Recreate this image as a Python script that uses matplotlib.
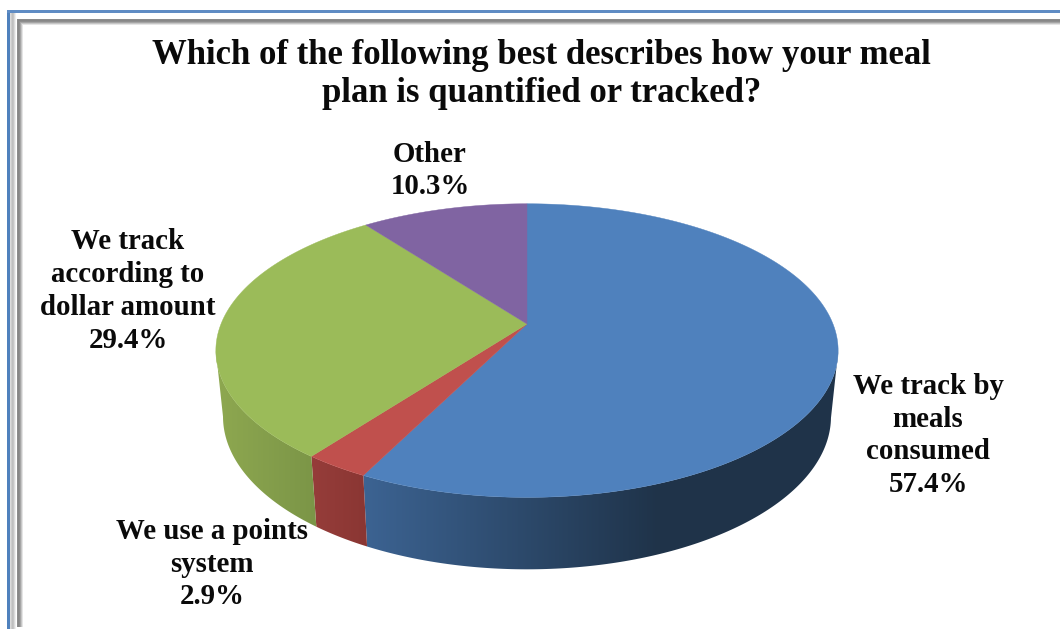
import numpy as np
import matplotlib
matplotlib.use("Agg")
from matplotlib import pyplot as plt
from matplotlib.colors import LinearSegmentedColormap, to_rgb
from matplotlib.patches import Polygon

title = "Which of the following best describes how your meal\nplan is quantified or tracked?"
categories = ["We track by\nmeals\nconsumed", "We use a points\nsystem",
              "We track\naccording to\ndollar amount", "Other"]
values = [57.4, 2.9, 29.4, 10.3]
top_colors = ["#4f81bd", "#c0504d", "#9bbb59", "#8064a2"]
side_colors = [("#3c6392", "#1f3349"), ("#963d3a", "#8a3633"),
               ("#8ea850", "#7b9547"), ("#66507f", "#66507f")]
label_xy = [(928, 435.5), (212, 564), (128, 291), (430, 170.5)]

W, H = 1060, 629
CX, CY = 527, 324     # apex of the pie on screen
R, DEPTH, K = 306, 142, 0.181     # disc radius, squash, perspective strength


def project(theta, sx=1.0, sy=1.0, dy=0.0):
    # theta runs clockwise from 12 o'clock, near edge of the disc is larger
    u, v = np.sin(theta), -np.cos(theta)
    w = 1 - K * v
    return CX + sx * R * u / w, CY + dy + sy * DEPTH * v / w


def frame_image():
    img = np.ones((H, W, 3))
    img[10:, 7:10] = to_rgb("#4f81bd")
    img[10:13, 7:] = to_rgb("#5f8cc4")
    for i, g in enumerate([.86, .80, .75, .78, .86, .94, 1]):
        img[13:, 10 + i] = g
    for i, g in enumerate([.55, .53, .56, .65, .78, .9]):
        img[19 + i:627, 17 + i] = g
        img[19 + i, 17 + i:] = g
    return img


fig = plt.figure(figsize=(W / 100, H / 100), dpi=100)
ax = fig.add_axes([0, 0, 1, 1])
ax.imshow(frame_image(), extent=(0, W, H, 0), interpolation="nearest", zorder=0)

edges = np.radians(np.cumsum([0] + values) / sum(values) * 360)

# outer wall, only the part that faces the viewer; the shade follows x
for start, end, shades in zip(edges[:-1], edges[1:], side_colors):
    th = np.linspace(start, end, 300)
    th = th[-np.cos(th) > K]
    if len(th) < 2:
        continue
    tx, ty = project(th)
    bx, by = project(th, sx=0.977, sy=1.04, dy=65)
    outline = np.c_[np.r_[tx, bx[::-1]], np.r_[ty, by[::-1]]]
    lo, hi = (365, 660) if start == 0 else (outline[:, 0].min(), outline[:, 0].max())
    cmap = LinearSegmentedColormap.from_list("wall", shades)
    grad = np.clip((np.arange(W) + 0.5 - lo) / (hi - lo), 0, 1)[None, :]
    im = ax.imshow(grad, cmap=cmap, vmin=0, vmax=1, extent=(0, W, H, 0),
                   aspect="auto", interpolation="nearest", zorder=2)
    im.set_clip_path(Polygon(outline, closed=True, transform=ax.transData))

# top face
for start, end, color in zip(edges[:-1], edges[1:], top_colors):
    th = np.linspace(start, end, 200)
    px, py = project(th)
    ax.fill(np.r_[CX, px], np.r_[CY, py], color=color, lw=0.3, zorder=3)

ax.set_xlim(0, W)
ax.set_ylim(H, 0)
ax.axis("off")

font = ["Liberation Serif", "DejaVu Serif"]
ax.text(541.5, 74.5, title, ha="center", va="center", fontsize=25, fontweight="bold",
        family=font, linespacing=1.22, color="#0a0a0a", zorder=4)
for name, value, (x, y) in zip(categories, values, label_xy):
    ax.text(x, y, f"{name}\n{value:.1f}%", ha="center", va="center", fontsize=20.8,
            fontweight="bold", family=font, linespacing=1.27, color="#0a0a0a", zorder=4)

fig.savefig("out.png", dpi=100)
